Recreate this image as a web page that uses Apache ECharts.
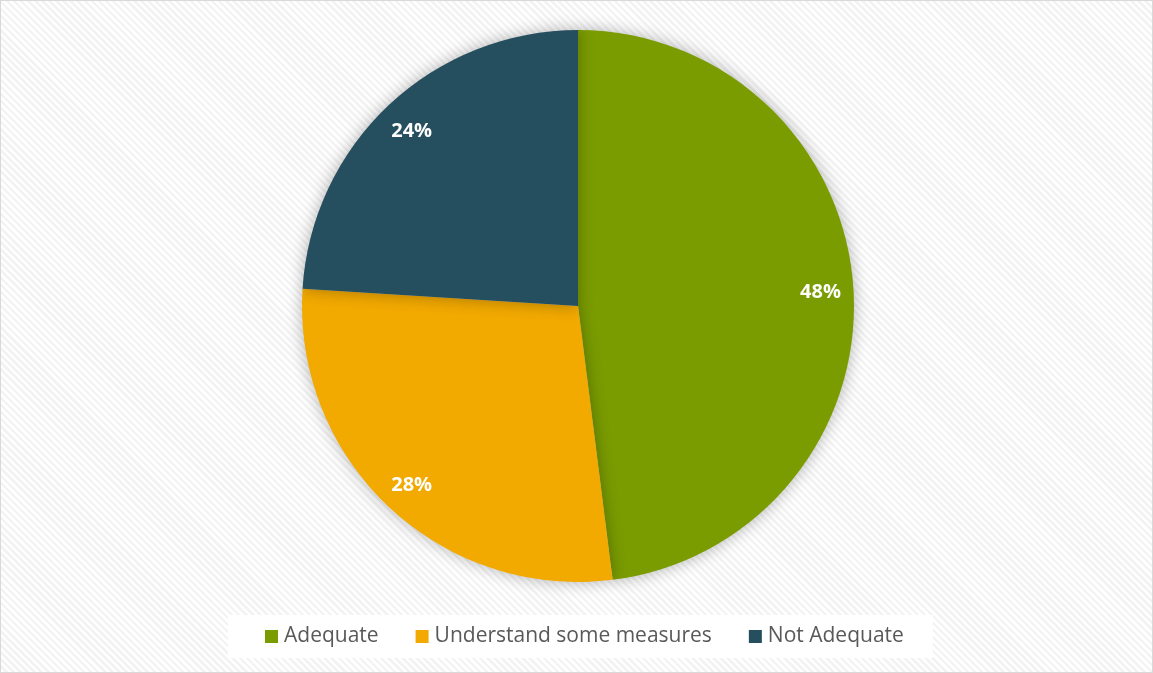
<!DOCTYPE html>
<html>
<head>
<meta charset="utf-8">
<script src="https://cdn.jsdelivr.net/npm/echarts@6/dist/echarts.min.js"></script>
<style>
html,body{margin:0;padding:0;background:#fff;}
#wrap{position:absolute;left:0;top:0;width:1151px;height:671px;border:1px solid #d9d9d9;
background:repeating-linear-gradient(45deg,#ffffff 0px,#ffffff 2.5px,#f3f3f3 2.5px,#f3f3f3 5px);}
#chart{width:1151px;height:671px;}
</style>
</head>
<body>
<div id="wrap"><div id="chart"></div></div>
<script>
const categories = ['Adequate', 'Understand some measures', 'Not Adequate'];
const values = [48, 28, 24];
const colors = ['#7a9c01', '#f2a900', '#254e5e'];

const data = categories.map((c, i) => ({ name: c, value: values[i], itemStyle: { color: colors[i] } }));

const chart = echarts.init(document.getElementById('chart'), null, { renderer: 'canvas' });
chart.setOption({
  backgroundColor: 'transparent',
  animation: false,
  legend: {
    data: categories,
    bottom: 14,
    left: 227,
    icon: 'rect',
    itemWidth: 13,
    itemHeight: 13,
    itemGap: 37,
    backgroundColor: '#ffffff',
    padding: [11, 29, 11, 37],
    textStyle: { fontFamily: 'Open Sans', fontSize: 21, color: '#595959', padding: [0, 0, 0, 1] }
  },
  series: [
    {
      type: 'pie',
      center: [577, 305],
      radius: 276,
      startAngle: 90,
      clockwise: true,
      data: data,
      label: { show: false },
      labelLine: { show: false },
      itemStyle: { shadowBlur: 16, shadowColor: 'rgba(0,0,0,0.3)', shadowOffsetX: 0, shadowOffsetY: 0 },
      emphasis: { disabled: true }
    },
    {
      type: 'pie',
      center: [577, 307],
      radius: [204, 276],
      startAngle: 90,
      clockwise: true,
      silent: true,
      data: data.map(d => ({ name: d.name, value: d.value, itemStyle: { color: 'rgba(0,0,0,0)' } })),
      label: {
        show: true,
        position: 'inside',
        formatter: '{c}%',
        color: '#ffffff',
        fontFamily: 'Open Sans',
        fontWeight: 'bold',
        fontSize: 20
      },
      labelLine: { show: false },
      emphasis: { disabled: true }
    }
  ]
});
</script>
</body>
</html>
